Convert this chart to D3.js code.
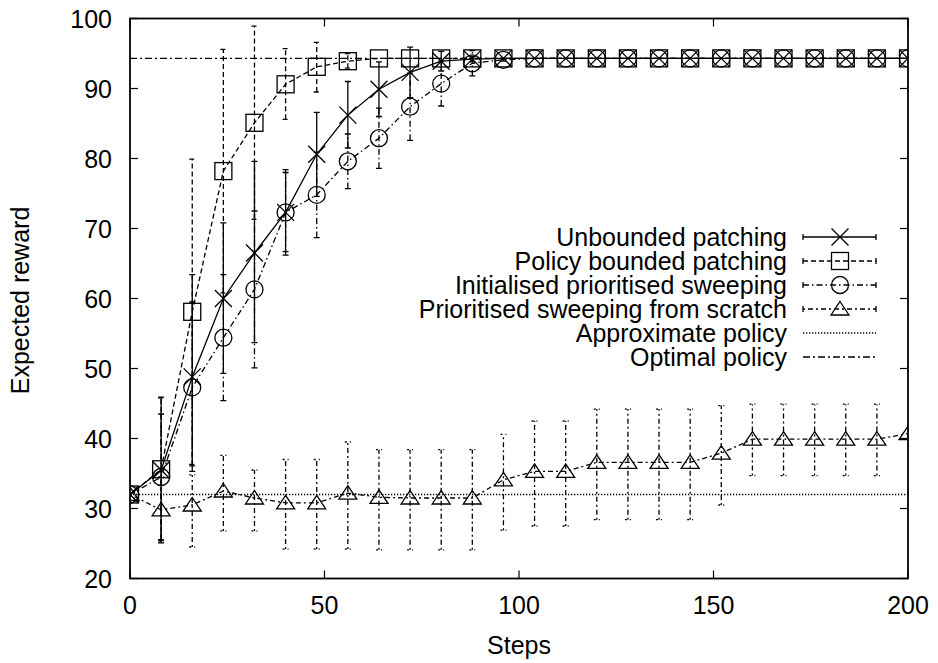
<!DOCTYPE html>
<html>
<head>
<meta charset="utf-8">
<script src="https://cdn.jsdelivr.net/npm/d3@7"></script>
<style>
  body { margin: 0; background: #fff; }
  svg text { font-family: "Liberation Sans", Arial, sans-serif; fill: #000; }
</style>
</head>
<body>
<div id="chart"></div>
<script>
// steps on the x axis
const steps = [0, 8, 16, 24, 32, 40, 48, 56, 64, 72, 80, 88, 96, 104, 112, 120, 128, 136, 144, 152, 160, 168, 176, 184, 192, 200];

const unboundedMean = [32, 35.5, 48.8, 60.0, 66.5, 72.3, 80.6, 86.2, 89.9, 92.3, 93.9, 94.2, 94.3, 94.3, 94.3, 94.3, 94.3, 94.3, 94.3, 94.3, 94.3, 94.3, 94.3, 94.3, 94.3, 94.3];
const unboundedLo   = [32, 25.1, 36.1, 49.3, 53.7, 66.7, 74.6, 81.5, 86.0, 88.7, 92.5, 93.8, 94.3, 94.3, 94.3, 94.3, 94.3, 94.3, 94.3, 94.3, 94.3, 94.3, 94.3, 94.3, 94.3, 94.3];
const unboundedHi   = [32, 45.9, 63.4, 70.8, 79.6, 78.0, 86.6, 91.0, 93.8, 95.9, 95.3, 94.6, 94.3, 94.3, 94.3, 94.3, 94.3, 94.3, 94.3, 94.3, 94.3, 94.3, 94.3, 94.3, 94.3, 94.3];

const boundedMean = [32, 35.6, 58.1, 78.2, 85.1, 90.6, 93.1, 93.9, 94.3, 94.3, 94.3, 94.3, 94.3, 94.3, 94.3, 94.3, 94.3, 94.3, 94.3, 94.3, 94.3, 94.3, 94.3, 94.3, 94.3, 94.3];
const boundedLo   = [32, 25.5, 36.3, 60.8, 71.3, 85.6, 89.5, 92.9, 94.3, 94.3, 94.3, 94.3, 94.3, 94.3, 94.3, 94.3, 94.3, 94.3, 94.3, 94.3, 94.3, 94.3, 94.3, 94.3, 94.3, 94.3];
const boundedHi   = [32, 45.8, 79.9, 95.6, 98.9, 95.7, 96.6, 95.0, 94.3, 94.3, 94.3, 94.3, 94.3, 94.3, 94.3, 94.3, 94.3, 94.3, 94.3, 94.3, 94.3, 94.3, 94.3, 94.3, 94.3, 94.3];

const initMean = [32, 34.5, 47.3, 54.4, 61.3, 72.3, 74.8, 79.6, 82.9, 87.4, 90.7, 93.6, 94.1, 94.3, 94.3, 94.3, 94.3, 94.3, 94.3, 94.3, 94.3, 94.3, 94.3, 94.3, 94.3, 94.3];
const initLo   = [32, 25.5, 35.3, 45.4, 50.1, 66.2, 68.7, 75.7, 78.6, 82.6, 87.5, 91.8, 93.9, 94.3, 94.3, 94.3, 94.3, 94.3, 94.3, 94.3, 94.3, 94.3, 94.3, 94.3, 94.3, 94.3];
const initHi   = [32, 43.5, 59.5, 63.4, 72.5, 78.4, 80.9, 83.5, 87.2, 92.2, 93.9, 95.4, 94.3, 94.3, 94.3, 94.3, 94.3, 94.3, 94.3, 94.3, 94.3, 94.3, 94.3, 94.3, 94.3, 94.3];

const scratchMean = [32, 29.8, 30.5, 32.5, 31.5, 30.8, 30.8, 32.2, 31.6, 31.5, 31.5, 31.5, 34.1, 35.3, 35.3, 36.6, 36.6, 36.6, 36.6, 37.9, 39.9, 39.9, 39.9, 39.9, 39.9, 40.7];
const scratchLo   = [32, 25.2, 24.5, 26.8, 26.8, 24.2, 24.2, 24.2, 24.1, 24.1, 24.1, 24.1, 26.9, 27.5, 27.5, 28.4, 28.4, 28.4, 28.4, 30.5, 34.7, 34.7, 34.7, 34.7, 34.7, 40.7];
const scratchHi   = [32, 34.5, 34.8, 37.6, 35.5, 37.0, 37.0, 39.5, 38.4, 38.4, 38.4, 38.4, 40.6, 42.5, 42.5, 44.2, 44.2, 44.2, 44.2, 44.7, 44.9, 44.9, 44.9, 44.9, 44.9, 40.7];

const approxPolicy = 32;
const optimalPolicy = 94.3;

const xTicks = [0, 50, 100, 150, 200];
const yTicks = [20, 30, 40, 50, 60, 70, 80, 90, 100];

const margin = {t: 18.5, r: 30, b: 84.5, l: 130};
const W = 938, H = 663;
const width = W - margin.l - margin.r;
const height = H - margin.t - margin.b;

const svg = d3.select('#chart').append('svg').attr('width', W).attr('height', H);
const g = svg.append('g').attr('transform', `translate(${margin.l},${margin.t})`);

const x = d3.scaleLinear().domain([0, 200]).range([0, width]);
const y = d3.scaleLinear().domain([20, 100]).range([height, 0]);

const FS = 25;
const TICK = 8;

// ticks, inward on all four sides
const ax = g.append('g').attr('stroke', '#000').attr('stroke-width', 1.2);
xTicks.forEach(v => {
  ax.append('line').attr('x1', x(v)).attr('x2', x(v)).attr('y1', height).attr('y2', height - TICK);
  ax.append('line').attr('x1', x(v)).attr('x2', x(v)).attr('y1', 0).attr('y2', TICK);
});
yTicks.forEach(v => {
  ax.append('line').attr('x1', 0).attr('x2', TICK).attr('y1', y(v)).attr('y2', y(v));
  ax.append('line').attr('x1', width).attr('x2', width - TICK).attr('y1', y(v)).attr('y2', y(v));
});

g.append('g').selectAll('text').data(xTicks).join('text')
  .attr('x', d => x(d)).attr('y', height + 35)
  .attr('text-anchor', 'middle').attr('font-size', FS)
  .text(d => d);
g.append('g').selectAll('text').data(yTicks).join('text')
  .attr('x', -18).attr('y', d => y(d) + 9)
  .attr('text-anchor', 'end').attr('font-size', FS)
  .text(d => d);

svg.append('text').attr('x', margin.l + width / 2).attr('y', 654)
  .attr('text-anchor', 'middle').attr('font-size', FS).text('Steps');
svg.append('text').attr('transform', `translate(29,${margin.t + height / 2 + 2}) rotate(-90)`)
  .attr('text-anchor', 'middle').attr('font-size', FS).text('Expected reward');

// clip
svg.append('clipPath').attr('id', 'clip').append('rect').attr('width', width).attr('height', height);
const plot = g.append('g').attr('clip-path', 'url(#clip)');

const series = [
  {name: 'Unbounded patching', mean: unboundedMean, lo: unboundedLo, hi: unboundedHi, dash: null, marker: 'x'},
  {name: 'Policy bounded patching', mean: boundedMean, lo: boundedLo, hi: boundedHi, dash: '5,3', marker: 'square'},
  {name: 'Initialised prioritised sweeping', mean: initMean, lo: initLo, hi: initHi, dash: '6,3,1.5,3', marker: 'circle'},
  {name: 'Prioritised sweeping from scratch', mean: scratchMean, lo: scratchLo, hi: scratchHi, dash: '2,3,5,3', marker: 'triangle'}
];

const LW = 1.3;

function drawMarker(sel, type, cx, cy) {
  const m = sel.append('g').attr('transform', `translate(${cx},${cy})`)
    .attr('fill', 'none').attr('stroke', '#000').attr('stroke-width', LW);
  if (type === 'x') {
    m.append('path').attr('d', 'M-8.5,-8.5L8.5,8.5M-8.5,8.5L8.5,-8.5');
  } else if (type === 'square') {
    m.append('rect').attr('x', -8.5).attr('y', -8.5).attr('width', 17).attr('height', 17);
  } else if (type === 'circle') {
    m.append('circle').attr('r', 8.5);
  } else if (type === 'triangle') {
    m.append('path').attr('d', 'M0,-7.5L9,6L-9,6Z');
  }
}

// reference lines
plot.append('line').attr('x1', 0).attr('x2', width)
  .attr('y1', y(approxPolicy)).attr('y2', y(approxPolicy))
  .attr('stroke', '#000').attr('stroke-width', LW).attr('stroke-dasharray', '1.3,1.7');
plot.append('line').attr('x1', 0).attr('x2', width)
  .attr('y1', y(optimalPolicy)).attr('y2', y(optimalPolicy))
  .attr('stroke', '#000').attr('stroke-width', LW).attr('stroke-dasharray', '7,3,2,3');

const line = d3.line().x(d => x(d.s)).y(d => y(d.v));

series.slice().reverse().forEach(sr => {
  const pts = steps.map((s, i) => ({s, v: sr.mean[i], lo: sr.lo[i], hi: sr.hi[i]}));
  const sg = plot.append('g');
  sg.append('path').datum(pts).attr('d', line)
    .attr('fill', 'none').attr('stroke', '#000').attr('stroke-width', LW)
    .attr('stroke-dasharray', sr.dash);
  const bars = pts.filter(d => d.hi > d.lo);
  sg.selectAll('path.bar').data(bars).join('path').attr('class', 'bar')
    .attr('d', d => `M${x(d.s)},${y(d.lo)}V${y(d.hi)}M${x(d.s) - 3},${y(d.lo)}H${x(d.s) + 3}M${x(d.s) - 3},${y(d.hi)}H${x(d.s) + 3}`)
    .attr('fill', 'none').attr('stroke', '#000').attr('stroke-width', LW)
    .attr('stroke-dasharray', sr.dash);
  pts.forEach(d => drawMarker(sg, sr.marker, x(d.s), y(d.v)));
});

// border
g.append('rect').attr('width', width).attr('height', height)
  .attr('fill', 'none').attr('stroke', '#000').attr('stroke-width', 1.8);

// legend
const legendRows = [
  ...series.map(s => ({name: s.name, dash: s.dash, marker: s.marker, bars: true})),
  {name: 'Approximate policy', dash: '1.3,1.7', marker: null, bars: false},
  {name: 'Optimal policy', dash: '7,3,2,3', marker: null, bars: false}
];
const lg = svg.append('g');
const lx0 = 803, lx1 = 876, lmid = 840, textX = 787;
legendRows.forEach((r, i) => {
  const cy = 237 + i * 24;
  lg.append('text').attr('x', textX).attr('y', cy + 8.5)
    .attr('text-anchor', 'end').attr('font-size', FS).text(r.name);
  lg.append('line').attr('x1', lx0).attr('x2', lx1).attr('y1', cy).attr('y2', cy)
    .attr('stroke', '#000').attr('stroke-width', LW).attr('stroke-dasharray', r.dash);
  if (r.bars) {
    lg.append('path').attr('d', `M${lx0},${cy - 3}V${cy + 3}M${lx1},${cy - 3}V${cy + 3}`)
      .attr('stroke', '#000').attr('stroke-width', LW);
  }
  if (r.marker) drawMarker(lg, r.marker, lmid, cy);
});
</script>
</body>
</html>
